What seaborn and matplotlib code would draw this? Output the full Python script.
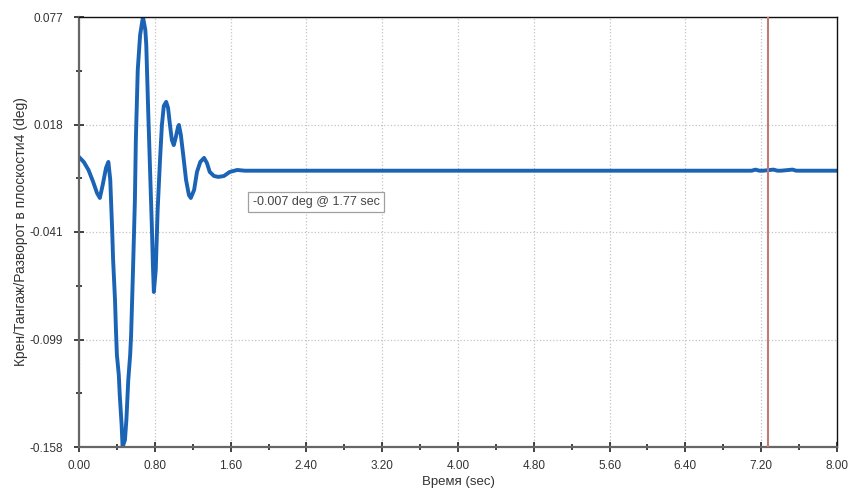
import numpy as np
import pandas as pd
import matplotlib
matplotlib.use("Agg")
import matplotlib.pyplot as plt
import seaborn as sns
from matplotlib.ticker import MultipleLocator

# time (sec) and angle (deg)
time_sec = [0.00, 0.05, 0.10, 0.15, 0.19, 0.22, 0.25, 0.285, 0.31, 0.33,
            0.35, 0.36, 0.38, 0.39, 0.40, 0.42, 0.43, 0.45, 0.46, 0.485,
            0.50, 0.52, 0.54, 0.55, 0.57, 0.59, 0.60, 0.62, 0.645, 0.675,
            0.70, 0.71, 0.73, 0.75, 0.77, 0.78, 0.79, 0.81, 0.83, 0.855,
            0.875, 0.895, 0.92, 0.94, 0.96, 0.98, 1.00, 1.02, 1.045, 1.055,
            1.075, 1.10, 1.13, 1.16, 1.18, 1.215, 1.245, 1.28, 1.32, 1.35,
            1.38, 1.425, 1.47, 1.53, 1.59, 1.67, 1.75, 7.10, 7.14, 7.18,
            7.22, 7.33, 7.37, 7.41, 7.53, 7.57, 7.61, 8.00]
angle_deg = [0.0005, -0.0022, -0.0066, -0.0132, -0.0192, -0.0219, -0.0148, -0.0055, -0.0022, -0.0121,
             -0.0394, -0.0558, -0.0776, -0.0940, -0.1077, -0.1186, -0.1296, -0.1460, -0.1580, -0.1541,
             -0.1432, -0.1214, -0.1077, -0.0968, -0.0613, -0.0230, 0.0098, 0.0480, 0.0672, 0.0770,
             0.0699, 0.0617, 0.0262, -0.0066, -0.0394, -0.0585, -0.0733, -0.0612, -0.0285, -0.0011,
             0.0180, 0.0284, 0.0306, 0.0273, 0.0180, 0.0098, 0.0070, 0.0109, 0.0169, 0.0180,
             0.0125, 0.0016, -0.0121, -0.0203, -0.0219, -0.0175, -0.0077, -0.0022, 0.0000, -0.0028,
             -0.0077, -0.0099, -0.0104, -0.0099, -0.0077, -0.0066, -0.0070, -0.0070, -0.0064, -0.0070,
             -0.0070, -0.0064, -0.0070, -0.0070, -0.0064, -0.0070, -0.0070, -0.0070]

y_tick_labels = ["-0.158", "-0.099", "-0.041", "0.018", "0.077"]
y_min, y_max = -0.158, 0.077
cursor_time = 7.27
tooltip = "-0.007 deg @ 1.77 sec"

df = pd.DataFrame({"t": time_sec, "v": angle_deg})

sns.set_style("white")
plt.rcParams["font.family"] = ["Liberation Sans", "DejaVu Sans"]

fig = plt.figure(figsize=(8.5, 4.92), dpi=100)
ax = fig.add_axes([79 / 850, 45 / 492, 758 / 850, 430 / 492])

sns.lineplot(data=df, x="t", y="v", ax=ax, color="#1a63b5", linewidth=2.8)
ax.axvline(cursor_time, color="#c27a76", linewidth=1.5, zorder=3)

ax.set_xlim(0, 8)
ax.set_ylim(y_min, y_max)
ax.set_xticks(np.arange(0, 8.01, 0.8))
ax.set_xticklabels([f"{x:.2f}" for x in np.arange(0, 8.01, 0.8)])
ax.xaxis.set_minor_locator(MultipleLocator(0.4))
yt = np.linspace(y_min, y_max, 5)
ax.set_yticks(yt)
ax.set_yticklabels(y_tick_labels)
ax.set_yticks((yt[:-1] + yt[1:]) / 2, minor=True)

ax.grid(True, which="major", linestyle=":", color="#c4c4c4", linewidth=0.9)
ax.tick_params(axis="both", which="both", bottom=True, left=True, top=False, right=False)
ax.tick_params(axis="both", which="major", direction="inout", length=7, width=1.2,
               color="#222222", labelsize=8.5, labelcolor="#333333")
ax.tick_params(axis="both", which="minor", direction="inout", length=5, width=1.2,
               color="#222222")
ax.tick_params(axis="x", which="major", pad=6)
ax.tick_params(axis="y", which="major", pad=8)

for side in ["left", "bottom"]:
    ax.spines[side].set_color("#666666")
    ax.spines[side].set_linewidth(1.6)
for side in ["top", "right"]:
    ax.spines[side].set_color("#111111")
    ax.spines[side].set_linewidth(1.0)

ax.set_xlabel("Время (sec)", fontsize=9.5, color="#333333", labelpad=3)
ax.set_ylabel("Крен/Тангаж/Разворот в плоскости4 (deg)", fontsize=10, color="#333333", labelpad=1)

ax.text(1.835, -0.0241, tooltip, fontsize=9, color="#444444", va="center", ha="left",
        bbox=dict(boxstyle="square,pad=0.35", facecolor="white", edgecolor="#a0a0a0", linewidth=0.9),
        zorder=5)

fig.savefig("out.png", dpi=100)
